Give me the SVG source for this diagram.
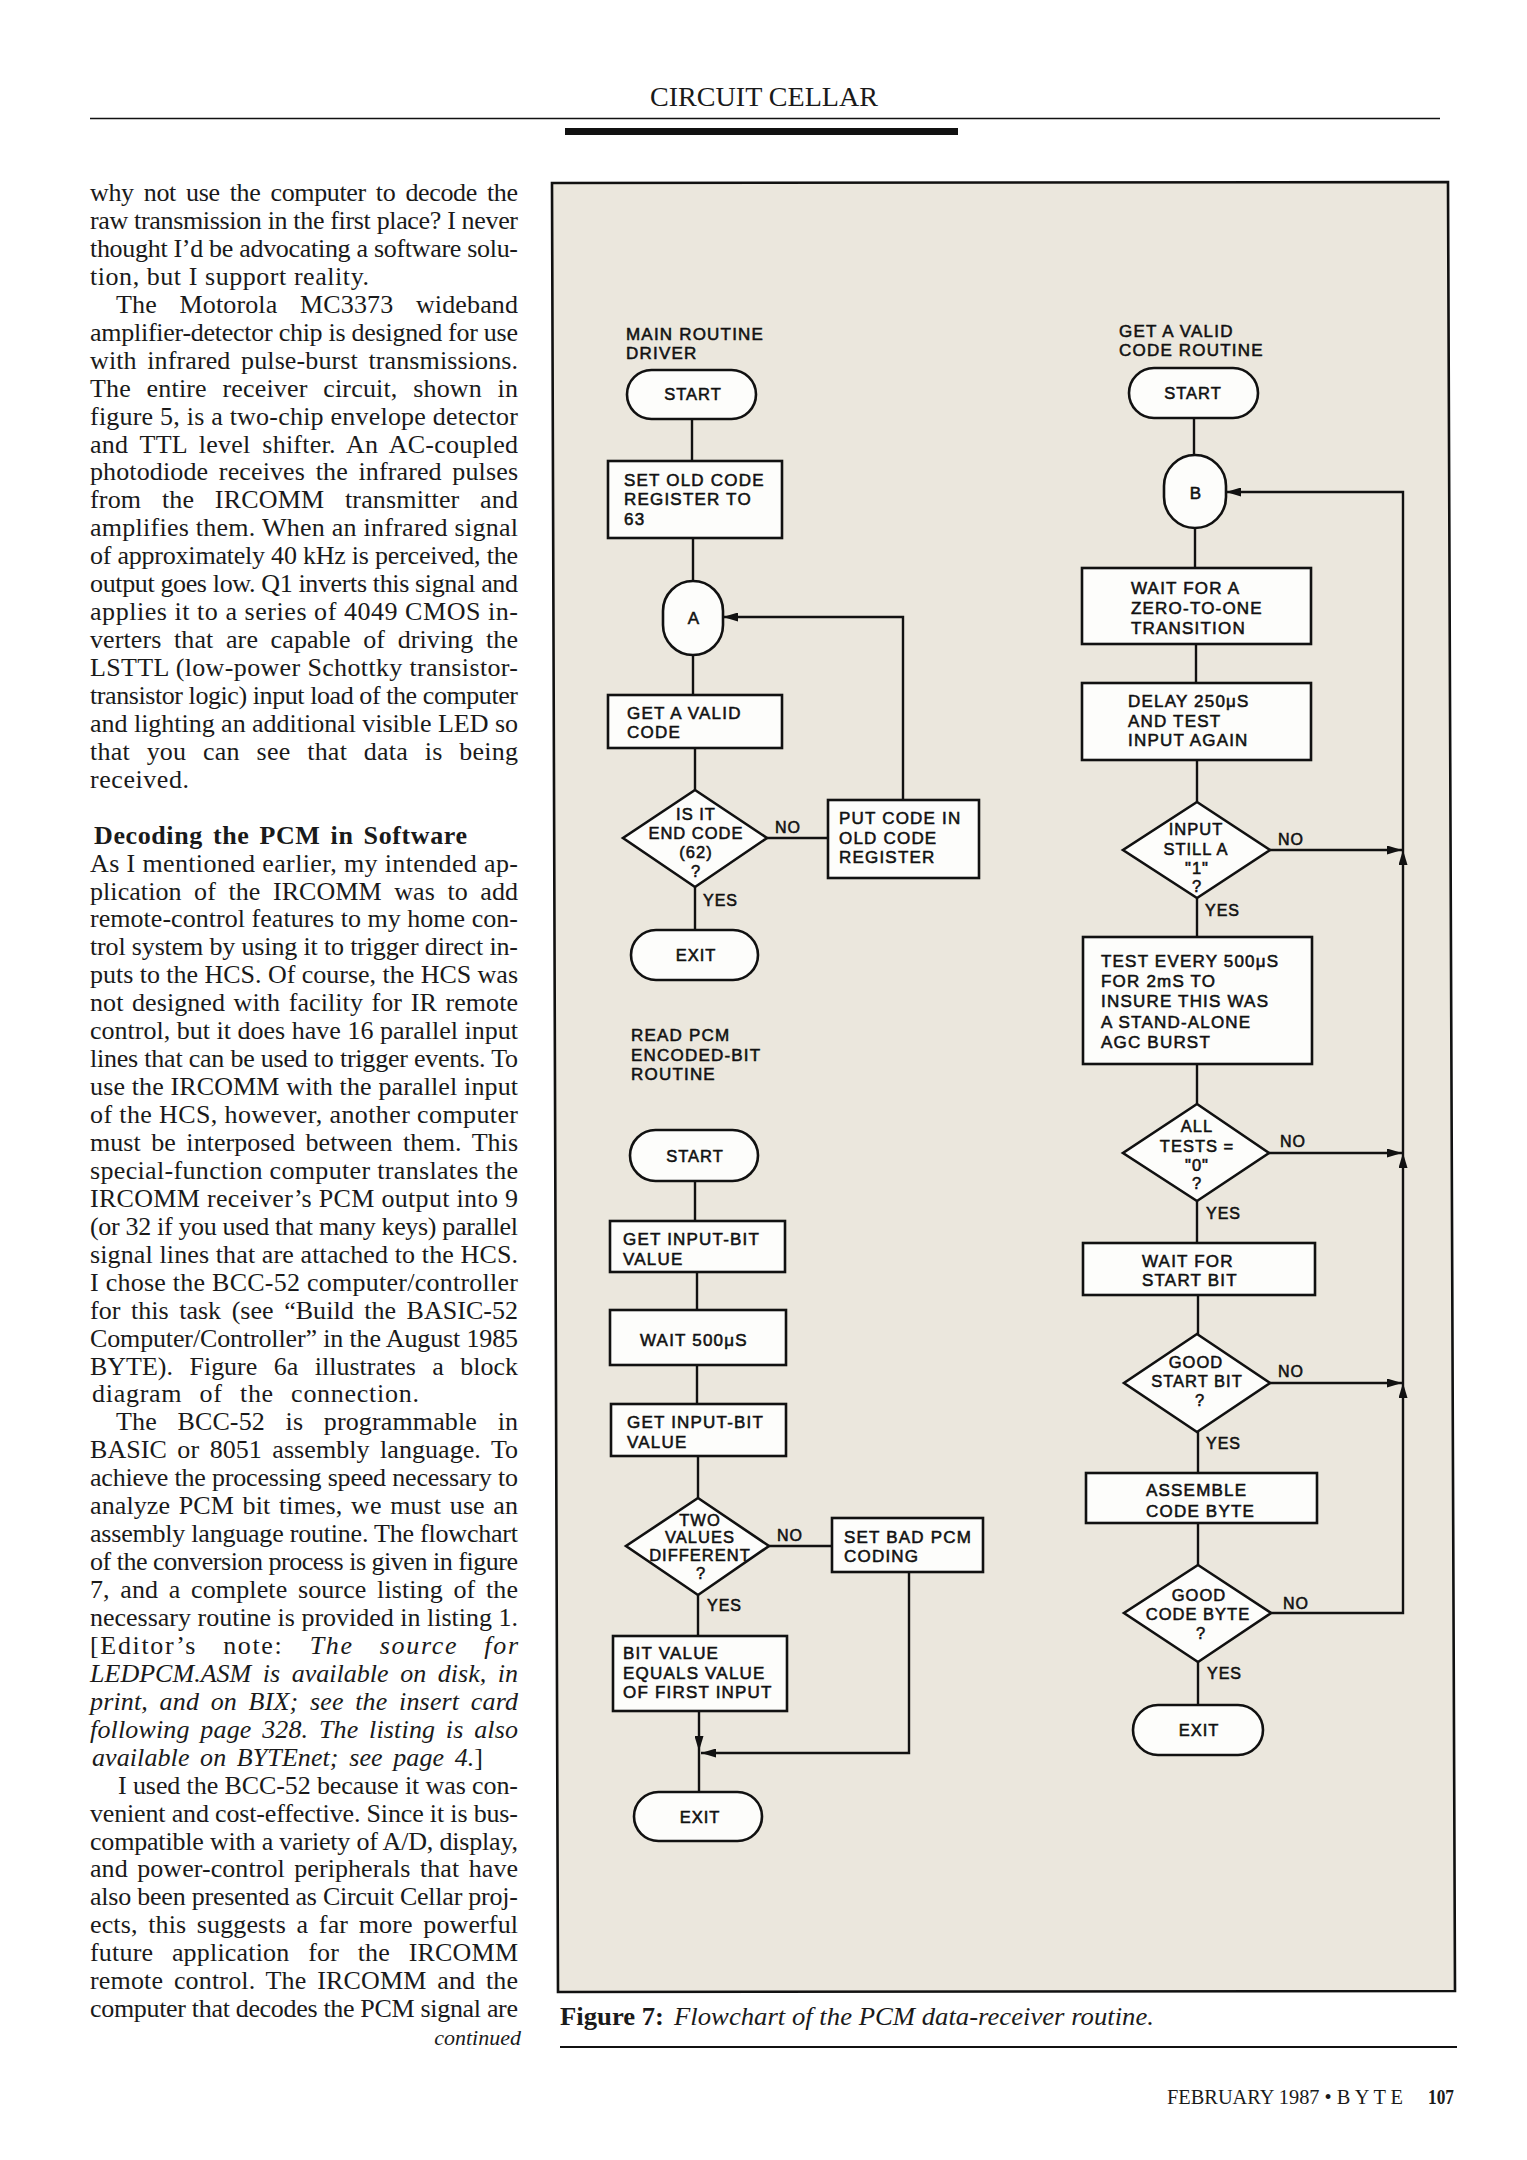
<svg xmlns="http://www.w3.org/2000/svg" width="1527" height="2160" viewBox="0 0 1527 2160">
<defs>
<style>
.body{font-family:"Liberation Serif","Times New Roman",serif;font-size:26px;fill:#1a1a1a}
.it{font-style:italic}
.bd{font-weight:bold}
.box{fill:#fdfdfb;stroke:#111;stroke-width:2.6}
.conn{fill:none;stroke:#111;stroke-width:2.4}
.t{font-family:"Liberation Sans",Arial,sans-serif;font-size:17px;letter-spacing:1.2px;fill:#111;stroke:#111;stroke-width:0.55}
.d{font-family:"Liberation Sans",Arial,sans-serif;font-size:16.5px;letter-spacing:1px;fill:#111;stroke:#111;stroke-width:0.55;text-anchor:middle}
.m{font-family:"Liberation Sans",Arial,sans-serif;font-size:16.5px;letter-spacing:1px;fill:#111;stroke:#111;stroke-width:0.55;text-anchor:middle}
.yn{font-family:"Liberation Sans",Arial,sans-serif;font-size:16px;letter-spacing:1px;fill:#111;stroke:#111;stroke-width:0.55}
</style>
<marker id="ah" viewBox="0 0 15 9" refX="15" refY="4.5" markerWidth="15" markerHeight="9" markerUnits="userSpaceOnUse" orient="auto"><path d="M0,0 L15,4.5 L0,9 Z" fill="#111"/></marker>
</defs>
<rect x="0" y="0" width="1527" height="2160" fill="#ffffff"/>

<!-- header -->
<g id="header">
<text x="650" y="106" class="body" style="font-size:27px" textLength="228" lengthAdjust="spacingAndGlyphs">CIRCUIT CELLAR</text>
<line x1="90" y1="118.5" x2="1440" y2="118.5" stroke="#111" stroke-width="1.6"/>
<rect x="565" y="128" width="393" height="7" fill="#111"/>
</g>

<!-- left column text -->
<g id="article">
<text class="body" x="90" y="201" textLength="428" lengthAdjust="spacing" word-spacing="4">why not use the computer to decode the</text>
<text class="body" x="90" y="228.9" textLength="428" lengthAdjust="spacing">raw transmission in the first place? I never</text>
<text class="body" x="90" y="256.9" textLength="428" lengthAdjust="spacing">thought I’d be advocating a software solu-</text>
<text class="body" x="90" y="284.8" textLength="279" lengthAdjust="spacing">tion, but I support reality.</text>
<text class="body" x="116" y="312.8" textLength="402" lengthAdjust="spacing" word-spacing="16">The Motorola MC3373 wideband</text>
<text class="body" x="90" y="340.7" textLength="428" lengthAdjust="spacing">amplifier-detector chip is designed for use</text>
<text class="body" x="90" y="368.6" textLength="428" lengthAdjust="spacing" word-spacing="4">with infrared pulse-burst transmissions.</text>
<text class="body" x="90" y="396.6" textLength="428" lengthAdjust="spacing" word-spacing="9">The entire receiver circuit, shown in</text>
<text class="body" x="90" y="424.5" textLength="428" lengthAdjust="spacing">figure 5, is a two-chip envelope detector</text>
<text class="body" x="90" y="452.5" textLength="428" lengthAdjust="spacing" word-spacing="5">and TTL level shifter. An AC-coupled</text>
<text class="body" x="90" y="480.4" textLength="428" lengthAdjust="spacing" word-spacing="4">photodiode receives the infrared pulses</text>
<text class="body" x="90" y="508.3" textLength="428" lengthAdjust="spacing" word-spacing="14">from the IRCOMM transmitter and</text>
<text class="body" x="90" y="536.3" textLength="428" lengthAdjust="spacing">amplifies them. When an infrared signal</text>
<text class="body" x="90" y="564.2" textLength="428" lengthAdjust="spacing">of approximately 40 kHz is perceived, the</text>
<text class="body" x="90" y="592.2" textLength="428" lengthAdjust="spacing">output goes low. Q1 inverts this signal and</text>
<text class="body" x="90" y="620.1" textLength="428" lengthAdjust="spacing">applies it to a series of 4049 CMOS in-</text>
<text class="body" x="90" y="648" textLength="428" lengthAdjust="spacing" word-spacing="6">verters that are capable of driving the</text>
<text class="body" x="90" y="676" textLength="428" lengthAdjust="spacing">LSTTL (low-power Schottky transistor-</text>
<text class="body" x="90" y="703.9" textLength="428" lengthAdjust="spacing">transistor logic) input load of the computer</text>
<text class="body" x="90" y="731.9" textLength="428" lengthAdjust="spacing">and lighting an additional visible LED so</text>
<text class="body" x="90" y="759.8" textLength="428" lengthAdjust="spacing" word-spacing="10">that you can see that data is being</text>
<text class="body" x="90" y="787.7" textLength="99" lengthAdjust="spacing">received.</text>

<text class="body bd" x="94" y="843.6" textLength="373" lengthAdjust="spacing" word-spacing="3">Decoding the PCM in Software</text>

<text class="body" x="90" y="871.6" textLength="428" lengthAdjust="spacing">As I mentioned earlier, my intended ap-</text>
<text class="body" x="90" y="899.5" textLength="428" lengthAdjust="spacing" word-spacing="6">plication of the IRCOMM was to add</text>
<text class="body" x="90" y="927.4" textLength="428" lengthAdjust="spacing">remote-control features to my home con-</text>
<text class="body" x="90" y="955.4" textLength="428" lengthAdjust="spacing">trol system by using it to trigger direct in-</text>
<text class="body" x="90" y="983.3" textLength="428" lengthAdjust="spacing">puts to the HCS. Of course, the HCS was</text>
<text class="body" x="90" y="1011.3" textLength="428" lengthAdjust="spacing" word-spacing="2">not designed with facility for IR remote</text>
<text class="body" x="90" y="1039.2" textLength="428" lengthAdjust="spacing">control, but it does have 16 parallel input</text>
<text class="body" x="90" y="1067.1" textLength="428" lengthAdjust="spacing">lines that can be used to trigger events. To</text>
<text class="body" x="90" y="1095.1" textLength="428" lengthAdjust="spacing">use the IRCOMM with the parallel input</text>
<text class="body" x="90" y="1123" textLength="428" lengthAdjust="spacing">of the HCS, however, another computer</text>
<text class="body" x="90" y="1151" textLength="428" lengthAdjust="spacing" word-spacing="4">must be interposed between them. This</text>
<text class="body" x="90" y="1178.9" textLength="428" lengthAdjust="spacing">special-function computer translates the</text>
<text class="body" x="90" y="1206.8" textLength="428" lengthAdjust="spacing">IRCOMM receiver’s PCM output into 9</text>
<text class="body" x="90" y="1234.8" textLength="428" lengthAdjust="spacing">(or 32 if you used that many keys) parallel</text>
<text class="body" x="90" y="1262.7" textLength="428" lengthAdjust="spacing">signal lines that are attached to the HCS.</text>
<text class="body" x="90" y="1290.7" textLength="428" lengthAdjust="spacing">I chose the BCC-52 computer/controller</text>
<text class="body" x="90" y="1318.6" textLength="428" lengthAdjust="spacing" word-spacing="4">for this task (see “Build the BASIC-52</text>
<text class="body" x="90" y="1346.5" textLength="428" lengthAdjust="spacing">Computer/Controller” in the August 1985</text>
<text class="body" x="90" y="1374.5" textLength="428" lengthAdjust="spacing" word-spacing="10">BYTE). Figure 6a illustrates a block</text>
<text class="body" x="92" y="1402.4" textLength="327" lengthAdjust="spacing" word-spacing="10">diagram of the connection.</text>

<text class="body" x="116" y="1430.4" textLength="402" lengthAdjust="spacing" word-spacing="14">The BCC-52 is programmable in</text>
<text class="body" x="90" y="1458.3" textLength="428" lengthAdjust="spacing" word-spacing="4">BASIC or 8051 assembly language. To</text>
<text class="body" x="90" y="1486.2" textLength="428" lengthAdjust="spacing">achieve the processing speed necessary to</text>
<text class="body" x="90" y="1514.2" textLength="428" lengthAdjust="spacing" word-spacing="2">analyze PCM bit times, we must use an</text>
<text class="body" x="90" y="1542.1" textLength="428" lengthAdjust="spacing">assembly language routine. The flowchart</text>
<text class="body" x="90" y="1570.1" textLength="428" lengthAdjust="spacing">of the conversion process is given in figure</text>
<text class="body" x="90" y="1598" textLength="428" lengthAdjust="spacing" word-spacing="4">7, and a complete source listing of the</text>
<text class="body" x="90" y="1625.9" textLength="428" lengthAdjust="spacing">necessary routine is provided in listing 1.</text>
<text class="body" x="90" y="1653.9" textLength="428" lengthAdjust="spacing" word-spacing="18">[Editor’s note: <tspan class="it">The source for</tspan></text>
<text class="body it" x="90" y="1681.8" textLength="428" lengthAdjust="spacing" word-spacing="5">LEDPCM.ASM is available on disk, in</text>
<text class="body it" x="90" y="1709.8" textLength="428" lengthAdjust="spacing" word-spacing="5">print, and on BIX; see the insert card</text>
<text class="body it" x="90" y="1737.7" textLength="428" lengthAdjust="spacing" word-spacing="4">following page 328. The listing is also</text>
<text class="body" x="92" y="1765.6" textLength="391" lengthAdjust="spacing" word-spacing="4"><tspan class="it">available on BYTEnet; see page 4.</tspan>]</text>
<text class="body" x="118" y="1793.6" textLength="400" lengthAdjust="spacing">I used the BCC-52 because it was con-</text>
<text class="body" x="90" y="1821.5" textLength="428" lengthAdjust="spacing">venient and cost-effective. Since it is bus-</text>
<text class="body" x="90" y="1849.5" textLength="428" lengthAdjust="spacing">compatible with a variety of A/D, display,</text>
<text class="body" x="90" y="1877.4" textLength="428" lengthAdjust="spacing" word-spacing="3">and power-control peripherals that have</text>
<text class="body" x="90" y="1905.3" textLength="428" lengthAdjust="spacing">also been presented as Circuit Cellar proj-</text>
<text class="body" x="90" y="1933.3" textLength="428" lengthAdjust="spacing" word-spacing="4">ects, this suggests a far more powerful</text>
<text class="body" x="90" y="1961.2" textLength="428" lengthAdjust="spacing" word-spacing="12">future application for the IRCOMM</text>
<text class="body" x="90" y="1989.2" textLength="428" lengthAdjust="spacing" word-spacing="4">remote control. The IRCOMM and the</text>
<text class="body" x="90" y="2017.1" textLength="428" lengthAdjust="spacing">computer that decodes the PCM signal are</text>
<text class="body it" x="521" y="2045" text-anchor="end" style="font-size:22px">continued</text>
</g>

<!-- figure panel -->
<polygon id="frame" points="552,183 1448,182 1455,1991 558,1992" fill="#ebe7dd" stroke="#111" stroke-width="2.6"/>

<!-- connectors -->
<g id="connectors">
<line class="conn" x1="692" y1="419" x2="692" y2="461"/>
<line class="conn" x1="693" y1="538" x2="693" y2="581"/>
<line class="conn" x1="693" y1="655" x2="693" y2="695"/>
<line class="conn" x1="695" y1="748" x2="695" y2="790"/>
<line class="conn" x1="767" y1="838" x2="828" y2="838"/>
<polyline class="conn" points="903,800 903,617 723,617" marker-end="url(#ah)"/>
<line class="conn" x1="695" y1="887" x2="695" y2="930"/>
<line class="conn" x1="695" y1="1181" x2="695" y2="1221"/>
<line class="conn" x1="697" y1="1272" x2="697" y2="1310"/>
<line class="conn" x1="697" y1="1365" x2="697" y2="1404"/>
<line class="conn" x1="698" y1="1456" x2="698" y2="1498"/>
<line class="conn" x1="769" y1="1546" x2="832" y2="1546"/>
<line class="conn" x1="698" y1="1595" x2="698" y2="1636"/>
<line class="conn" x1="699" y1="1711" x2="699" y2="1751" marker-end="url(#ah)"/>
<line class="conn" x1="699" y1="1751" x2="699" y2="1792"/>
<polyline class="conn" points="909,1572 909,1753 701,1753" marker-end="url(#ah)"/>

<line class="conn" x1="1194" y1="418" x2="1194" y2="455"/>
<line class="conn" x1="1195" y1="528" x2="1195" y2="568"/>
<line class="conn" x1="1196" y1="644" x2="1196" y2="683"/>
<line class="conn" x1="1197" y1="760" x2="1197" y2="802"/>
<line class="conn" x1="1197" y1="898" x2="1197" y2="937"/>
<line class="conn" x1="1197" y1="1064" x2="1197" y2="1104"/>
<line class="conn" x1="1197" y1="1201" x2="1197" y2="1243"/>
<line class="conn" x1="1198" y1="1295" x2="1198" y2="1334"/>
<line class="conn" x1="1198" y1="1432" x2="1198" y2="1473"/>
<line class="conn" x1="1198" y1="1523" x2="1198" y2="1565"/>
<line class="conn" x1="1198" y1="1662" x2="1198" y2="1705"/>
<polyline class="conn" points="1271,1613 1403,1613 1403,1383" marker-end="url(#ah)"/>
<line class="conn" x1="1403" y1="1383" x2="1403" y2="1153" marker-end="url(#ah)"/>
<line class="conn" x1="1403" y1="1153" x2="1403" y2="850" marker-end="url(#ah)"/>
<polyline class="conn" points="1403,850 1403,492 1226,492" marker-end="url(#ah)"/>
<line class="conn" x1="1270" y1="850" x2="1402" y2="850" marker-end="url(#ah)"/>
<line class="conn" x1="1269" y1="1153" x2="1402" y2="1153" marker-end="url(#ah)"/>
<line class="conn" x1="1270" y1="1383" x2="1402" y2="1383" marker-end="url(#ah)"/>
</g>

<!-- main routine -->
<g id="title-main">
<text class="t" x="626" y="340">MAIN ROUTINE</text>
<text class="t" x="626" y="359">DRIVER</text>
</g>
<g id="start1"><rect class="box" x="627" y="370" width="129" height="49" rx="24.5"/><text class="m" x="693" y="400">START</text></g>
<g id="setold"><rect class="box" x="608" y="461" width="174" height="77"/>
<text class="t" x="624" y="486">SET OLD CODE</text><text class="t" x="624" y="505">REGISTER TO</text><text class="t" x="624" y="525">63</text></g>
<g id="conA"><rect class="box" x="663" y="581" width="60" height="74" rx="30" ry="30"/><text class="m" x="694" y="624" style="font-size:17px">A</text></g>
<g id="getvalid"><rect class="box" x="608" y="695" width="174" height="53"/>
<text class="t" x="627" y="719">GET A VALID</text><text class="t" x="627" y="738">CODE</text></g>
<g id="isend"><polygon class="box" points="695,790 767,838 695,887 623,838"/>
<text class="d" x="696" y="820">IS IT</text><text class="d" x="696" y="839">END CODE</text><text class="d" x="696" y="858">(62)</text><text class="d" x="696" y="877">?</text>
<text class="yn" x="775" y="833">NO</text><text class="yn" x="703" y="906">YES</text></g>
<g id="putcode"><rect class="box" x="828" y="800" width="151" height="78"/>
<text class="t" x="839" y="824">PUT CODE IN</text><text class="t" x="839" y="844">OLD CODE</text><text class="t" x="839" y="863">REGISTER</text></g>
<g id="exit1"><rect class="box" x="631" y="930" width="127" height="50" rx="25"/><text class="m" x="696" y="961">EXIT</text></g>

<!-- read PCM routine -->
<g id="title-read">
<text class="t" x="631" y="1041">READ PCM</text>
<text class="t" x="631" y="1061">ENCODED-BIT</text>
<text class="t" x="631" y="1080">ROUTINE</text>
</g>
<g id="start2"><rect class="box" x="630" y="1130" width="128" height="51" rx="25.5"/><text class="m" x="695" y="1162">START</text></g>
<g id="getbit1"><rect class="box" x="610" y="1221" width="175" height="51"/>
<text class="t" x="623" y="1245">GET INPUT-BIT</text><text class="t" x="623" y="1265">VALUE</text></g>
<g id="wait500"><rect class="box" x="610" y="1310" width="176" height="55"/>
<text class="t" x="640" y="1346">WAIT 500μS</text></g>
<g id="getbit2"><rect class="box" x="611" y="1404" width="175" height="52"/>
<text class="t" x="627" y="1428">GET INPUT-BIT</text><text class="t" x="627" y="1448">VALUE</text></g>
<g id="twovalues"><polygon class="box" points="698,1498 769,1546 698,1595 626,1546"/>
<text class="d" x="700" y="1526">TWO</text><text class="d" x="700" y="1543">VALUES</text><text class="d" x="700" y="1561">DIFFERENT</text><text class="d" x="701" y="1579">?</text>
<text class="yn" x="777" y="1541">NO</text><text class="yn" x="707" y="1611">YES</text></g>
<g id="setbad"><rect class="box" x="832" y="1518" width="151" height="54"/>
<text class="t" x="844" y="1543">SET BAD PCM</text><text class="t" x="844" y="1562">CODING</text></g>
<g id="bitvalue"><rect class="box" x="613" y="1636" width="174" height="75"/>
<text class="t" x="623" y="1659">BIT VALUE</text><text class="t" x="623" y="1679">EQUALS VALUE</text><text class="t" x="623" y="1698">OF FIRST INPUT</text></g>
<g id="exit2"><rect class="box" x="634" y="1792" width="128" height="49" rx="24.5"/><text class="m" x="700" y="1823">EXIT</text></g>

<!-- get a valid code routine -->
<g id="title-get">
<text class="t" x="1119" y="337">GET A VALID</text>
<text class="t" x="1119" y="356">CODE ROUTINE</text>
</g>
<g id="start3"><rect class="box" x="1129" y="368" width="129" height="50" rx="25"/><text class="m" x="1193" y="399">START</text></g>
<g id="conB"><rect class="box" x="1164" y="455" width="62" height="73" rx="31" ry="31"/><text class="m" x="1196" y="499" style="font-size:17px">B</text></g>
<g id="waitzero"><rect class="box" x="1082" y="568" width="229" height="76"/>
<text class="t" x="1131" y="594">WAIT FOR A</text><text class="t" x="1131" y="614">ZERO-TO-ONE</text><text class="t" x="1131" y="634">TRANSITION</text></g>
<g id="delay"><rect class="box" x="1082" y="683" width="229" height="77"/>
<text class="t" x="1128" y="707">DELAY 250μS</text><text class="t" x="1128" y="727">AND TEST</text><text class="t" x="1128" y="746">INPUT AGAIN</text></g>
<g id="still1"><polygon class="box" points="1197,802 1270,850 1197,898 1123,850"/>
<text class="d" x="1196" y="835">INPUT</text><text class="d" x="1196" y="855">STILL A</text><text class="d" x="1197" y="874">"1"</text><text class="d" x="1197" y="892">?</text>
<text class="yn" x="1278" y="845">NO</text><text class="yn" x="1205" y="916">YES</text></g>
<g id="testevery"><rect class="box" x="1083" y="937" width="229" height="127"/>
<text class="t" x="1101" y="967">TEST EVERY 500μS</text><text class="t" x="1101" y="987">FOR 2mS TO</text><text class="t" x="1101" y="1007">INSURE THIS WAS</text><text class="t" x="1101" y="1028">A STAND-ALONE</text><text class="t" x="1101" y="1048">AGC BURST</text></g>
<g id="alltests"><polygon class="box" points="1197,1104 1269,1153 1197,1201 1123,1153"/>
<text class="d" x="1197" y="1132">ALL</text><text class="d" x="1197" y="1152">TESTS =</text><text class="d" x="1197" y="1171">"0"</text><text class="d" x="1197" y="1189">?</text>
<text class="yn" x="1280" y="1147">NO</text><text class="yn" x="1206" y="1219">YES</text></g>
<g id="waitstart"><rect class="box" x="1083" y="1243" width="232" height="52"/>
<text class="t" x="1142" y="1267">WAIT FOR</text><text class="t" x="1142" y="1286">START BIT</text></g>
<g id="goodstart"><polygon class="box" points="1197,1334 1270,1383 1197,1432 1124,1383"/>
<text class="d" x="1196" y="1368">GOOD</text><text class="d" x="1197" y="1387">START BIT</text><text class="d" x="1200" y="1406">?</text>
<text class="yn" x="1278" y="1377">NO</text><text class="yn" x="1206" y="1449">YES</text></g>
<g id="assemble"><rect class="box" x="1086" y="1473" width="231" height="50"/>
<text class="t" x="1146" y="1496">ASSEMBLE</text><text class="t" x="1146" y="1517">CODE BYTE</text></g>
<g id="goodcode"><polygon class="box" points="1198,1565 1271,1613 1198,1662 1124,1613"/>
<text class="d" x="1199" y="1601">GOOD</text><text class="d" x="1198" y="1620">CODE BYTE</text><text class="d" x="1201" y="1639">?</text>
<text class="yn" x="1283" y="1609">NO</text><text class="yn" x="1207" y="1679">YES</text></g>
<g id="exit3"><rect class="box" x="1133" y="1705" width="130" height="50" rx="25"/><text class="m" x="1199" y="1736">EXIT</text></g>

<!-- caption and footer -->
<g id="caption">
<text class="body bd" x="560" y="2025" style="font-size:26px" textLength="104" lengthAdjust="spacingAndGlyphs">Figure 7:</text>
<text class="body it" x="674" y="2025" style="font-size:26px" textLength="480" lengthAdjust="spacingAndGlyphs">Flowchart of the PCM data-receiver routine.</text>
<line x1="560" y1="2047" x2="1457" y2="2047" stroke="#111" stroke-width="2"/>
</g>
<g id="footer">
<text class="body" x="1167" y="2104" style="font-size:21px" textLength="236" lengthAdjust="spacingAndGlyphs">FEBRUARY 1987 • B Y T E</text>
<text class="body bd" x="1428" y="2104" style="font-size:21px" textLength="26" lengthAdjust="spacingAndGlyphs">107</text>
</g>
</svg>
